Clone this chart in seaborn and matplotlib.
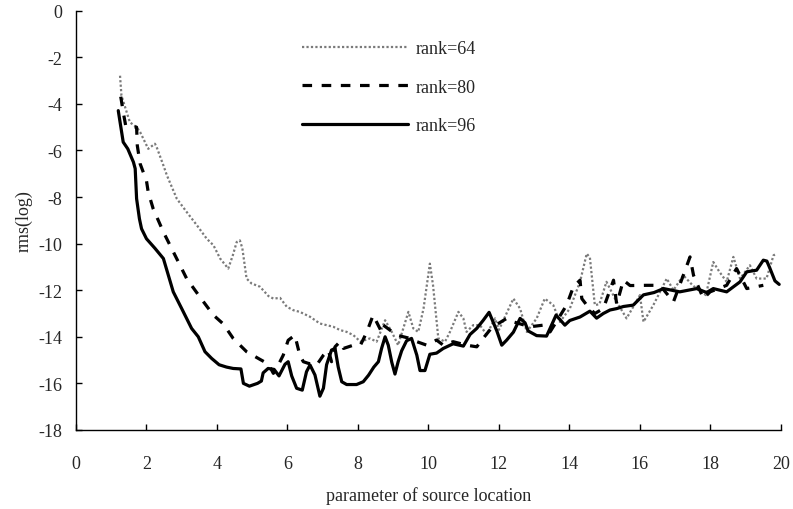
import matplotlib
matplotlib.use('Agg')
import matplotlib.pyplot as plt
import seaborn as sns
import pandas as pd

# rank=64 (dotted grey)
x64 = [1.25, 1.29, 1.44, 1.53, 1.72, 1.82, 2.05, 2.24, 2.30, 2.48, 2.58, 2.86, 3.14, 3.43,
       3.71, 3.90, 4.09, 4.32, 4.45, 4.56, 4.65, 4.72, 4.84, 4.98, 5.22, 5.46, 5.60, 5.79,
       5.98, 6.17, 6.35, 6.64, 6.92, 7.30, 7.49, 7.68, 7.87, 8.07, 8.34, 8.53, 8.77, 8.96,
       9.14, 9.43, 9.57, 9.71, 9.86, 10.04, 10.13, 10.28, 10.47, 10.61, 10.85, 10.99, 11.08,
       11.27, 11.46, 11.65, 11.89, 12.0, 12.41, 12.60, 12.79, 13.07, 13.30, 13.54, 13.73,
       14.01, 14.30, 14.49, 14.58, 14.72, 14.85, 15.05, 15.34, 15.62, 16.0, 16.10, 16.38,
       16.76, 16.95, 17.23, 17.50, 17.87, 18.08, 18.25, 18.46, 18.65, 18.84, 19.12, 19.31,
       19.59, 19.79, 19.88]
y64 = [-2.79, -3.64, -4.36, -4.79, -5.0, -5.21, -5.93, -5.71, -5.9, -6.64, -7.07, -8.07, -8.64,
       -9.21, -9.79, -10.07, -10.64, -11.07, -10.5, -9.93, -9.86, -10.2, -11.5, -11.71, -11.85,
       -12.25, -12.36, -12.33, -12.71, -12.86, -12.93, -13.14, -13.43, -13.57, -13.71, -13.79,
       -13.93, -14.21, -14.07, -14.21, -13.29, -13.79, -14.36, -12.93, -13.64, -13.79, -12.79,
       -10.86, -11.79, -14.07, -14.21, -13.79, -12.93, -13.21, -13.79, -13.5, -13.5, -13.9,
       -13.21, -13.7, -12.36, -12.79, -13.79, -13.21, -12.36, -12.64, -13.36, -12.79, -11.64,
       -10.43, -10.6, -12.64, -12.6, -11.64, -12.5, -13.21, -12.21, -13.36, -12.64, -11.5,
       -12.0, -11.36, -11.8, -12.21, -10.79, -11.2, -11.64, -10.57, -11.5, -10.93, -11.5,
       -11.5, -10.5, -10.43]

# rank=80 (dashed)
x80 = [1.27, 1.35, 1.41, 1.72, 1.74, 1.82, 2.0, 2.05, 2.19, 2.48, 2.81, 3.14, 3.52, 3.90,
       4.18, 4.46, 4.84, 5.22, 5.46, 5.60, 5.69, 5.88, 6.02, 6.21, 6.35, 6.45, 6.59, 6.83,
       7.02, 7.16, 7.25, 7.35, 7.49, 7.59, 7.87, 8.07, 8.25, 8.43, 8.67, 8.72, 9.10, 9.48,
       9.67, 9.95, 10.23, 10.42, 10.70, 11.08, 11.37, 11.55, 11.80, 12.22, 12.41, 12.88,
       13.26, 13.45, 13.92, 14.11, 14.30, 14.35, 14.49, 14.72, 14.96, 15.25, 15.34, 15.53,
       15.72, 16.19, 16.57, 16.95, 17.23, 17.42, 17.52, 17.80, 17.99, 18.46, 18.74, 19.03,
       19.50]
y80 = [-3.69, -4.43, -4.93, -5.0, -5.79, -6.57, -7.3, -7.79, -8.5, -9.5, -10.5, -11.5, -12.3,
       -13.07, -13.45, -14.07, -14.64, -14.97, -15.17, -15.57, -15.36, -14.79, -14.15, -13.93,
       -14.79, -15.07, -15.14, -15.21, -14.79, -14.57, -15.07, -14.43, -14.21, -14.5, -14.36,
       -14.36, -13.8, -13.07, -13.79, -13.5, -13.93, -14.07, -14.21, -14.36, -14.14, -14.36,
       -14.21, -14.36, -14.43, -14.07, -13.6, -13.21, -13.36, -13.57, -13.5, -13.79, -12.64,
       -11.86, -11.57, -12.36, -12.64, -13.0, -12.79, -11.57, -12.6, -11.57, -11.8, -11.79,
       -11.79, -12.5, -11.36, -10.57, -11.36, -12.36, -12.07, -11.79, -11.07, -11.93, -11.79]

# rank=96 (solid)
x96 = [1.20, 1.34, 1.47, 1.63, 1.68, 1.72, 1.80, 1.86, 2.0, 2.24, 2.48, 2.76, 3.0, 3.28, 3.47,
       3.66, 3.85, 4.06, 4.27, 4.46, 4.68, 4.75, 4.92, 5.15, 5.26, 5.31, 5.45, 5.62, 5.76,
       5.93, 6.02, 6.12, 6.26, 6.42, 6.54, 6.64, 6.78, 6.92, 7.02, 7.11, 7.25, 7.35, 7.44,
       7.54, 7.68, 7.96, 8.15, 8.30, 8.45, 8.58, 8.67, 8.77, 8.86, 8.96, 9.05, 9.14, 9.24,
       9.38, 9.52, 9.67, 9.76, 9.90, 10.04, 10.23, 10.42, 10.70, 10.99, 11.18, 11.37, 11.55,
       11.72, 11.94, 12.08, 12.22, 12.41, 12.60, 12.74, 12.83, 13.07, 13.35, 13.45, 13.62,
       13.87, 14.01, 14.30, 14.58, 14.77, 14.96, 15.15, 15.34, 15.53, 15.81, 16.10, 16.40,
       16.67, 17.13, 17.61, 17.89, 18.08, 18.46, 18.84, 19.03, 19.31, 19.50, 19.60, 19.69,
       19.83, 19.95]
y96 = [-4.29, -5.64, -5.93, -6.5, -6.78, -8.07, -8.93, -9.36, -9.79, -10.2, -10.64, -12.07,
       -12.79, -13.64, -14.0, -14.64, -14.93, -15.2, -15.3, -15.36, -15.38, -16.0, -16.12,
       -16.0, -15.9, -15.55, -15.36, -15.4, -15.68, -15.18, -15.07, -15.68, -16.21, -16.29,
       -15.5, -15.21, -15.64, -16.55, -16.21, -15.2, -14.57, -14.5, -15.3, -15.93, -16.05,
       -16.05, -15.93, -15.65, -15.3, -15.07, -14.5, -14.0, -14.36, -15.1, -15.6, -15.07,
       -14.6, -14.17, -14.07, -14.79, -15.45, -15.45, -14.75, -14.7, -14.5, -14.3, -14.4,
       -13.9, -13.64, -13.3, -12.95, -13.75, -14.36, -14.14, -13.8, -13.21, -13.4, -13.75,
       -13.95, -13.97, -13.64, -13.07, -13.5, -13.3, -13.15, -12.9, -13.2, -13.0, -12.85,
       -12.79, -12.7, -12.64, -12.2, -12.1, -11.93, -12.07, -11.93, -12.1, -11.93, -12.07,
       -11.64, -11.21, -11.14, -10.71, -10.75, -11.07, -11.6, -11.75]

sns.set_style('ticks')
plt.rcParams['font.family'] = ['Liberation Serif', 'DejaVu Serif']
plt.rcParams['axes.unicode_minus'] = False

fig = plt.figure(figsize=(7.93, 5.10), dpi=100)
ax = fig.add_axes([0.0958, 0.155, 0.889, 0.822])

sns.lineplot(x=x64, y=y64, ax=ax, estimator=None, color='#7a7a7a', lw=1.6,
             linestyle=(0, (1, 1)), label='rank=64')
sns.lineplot(x=x80, y=y80, ax=ax, estimator=None, color='black', lw=2.3,
             linestyle=(0, (3, 3)), label='rank=80')
sns.lineplot(x=x96, y=y96, ax=ax, estimator=None, color='black', lw=2.3,
             linestyle='-', label='rank=96')

ax.set_xlim(0, 20)
ax.set_ylim(-18, 0)
ax.set_xticks(range(0, 21, 2))
ax.set_yticks(range(-18, 1, 2))
ax.tick_params(direction='in', length=4.5, width=1, labelsize=13, color='black')
ax.tick_params(axis='x', pad=18)
ax.tick_params(axis='y', pad=10)
for s in ['top', 'right']:
    ax.spines[s].set_visible(False)
for s in ['left', 'bottom']:
    ax.spines[s].set_linewidth(1.0)
    ax.spines[s].set_color('black')

ax.set_xlabel('parameter of source location', fontsize=13, labelpad=10)
ax.set_ylabel('rms(log)', fontsize=13, labelpad=4)

ax.legend(loc='upper left', bbox_to_anchor=(0.32, 0.93), frameon=False, fontsize=13,
          handlelength=5.9, handletextpad=0.4, labelspacing=1.2, borderpad=0,
          borderaxespad=0)

fig.savefig('out.png', dpi=100)
